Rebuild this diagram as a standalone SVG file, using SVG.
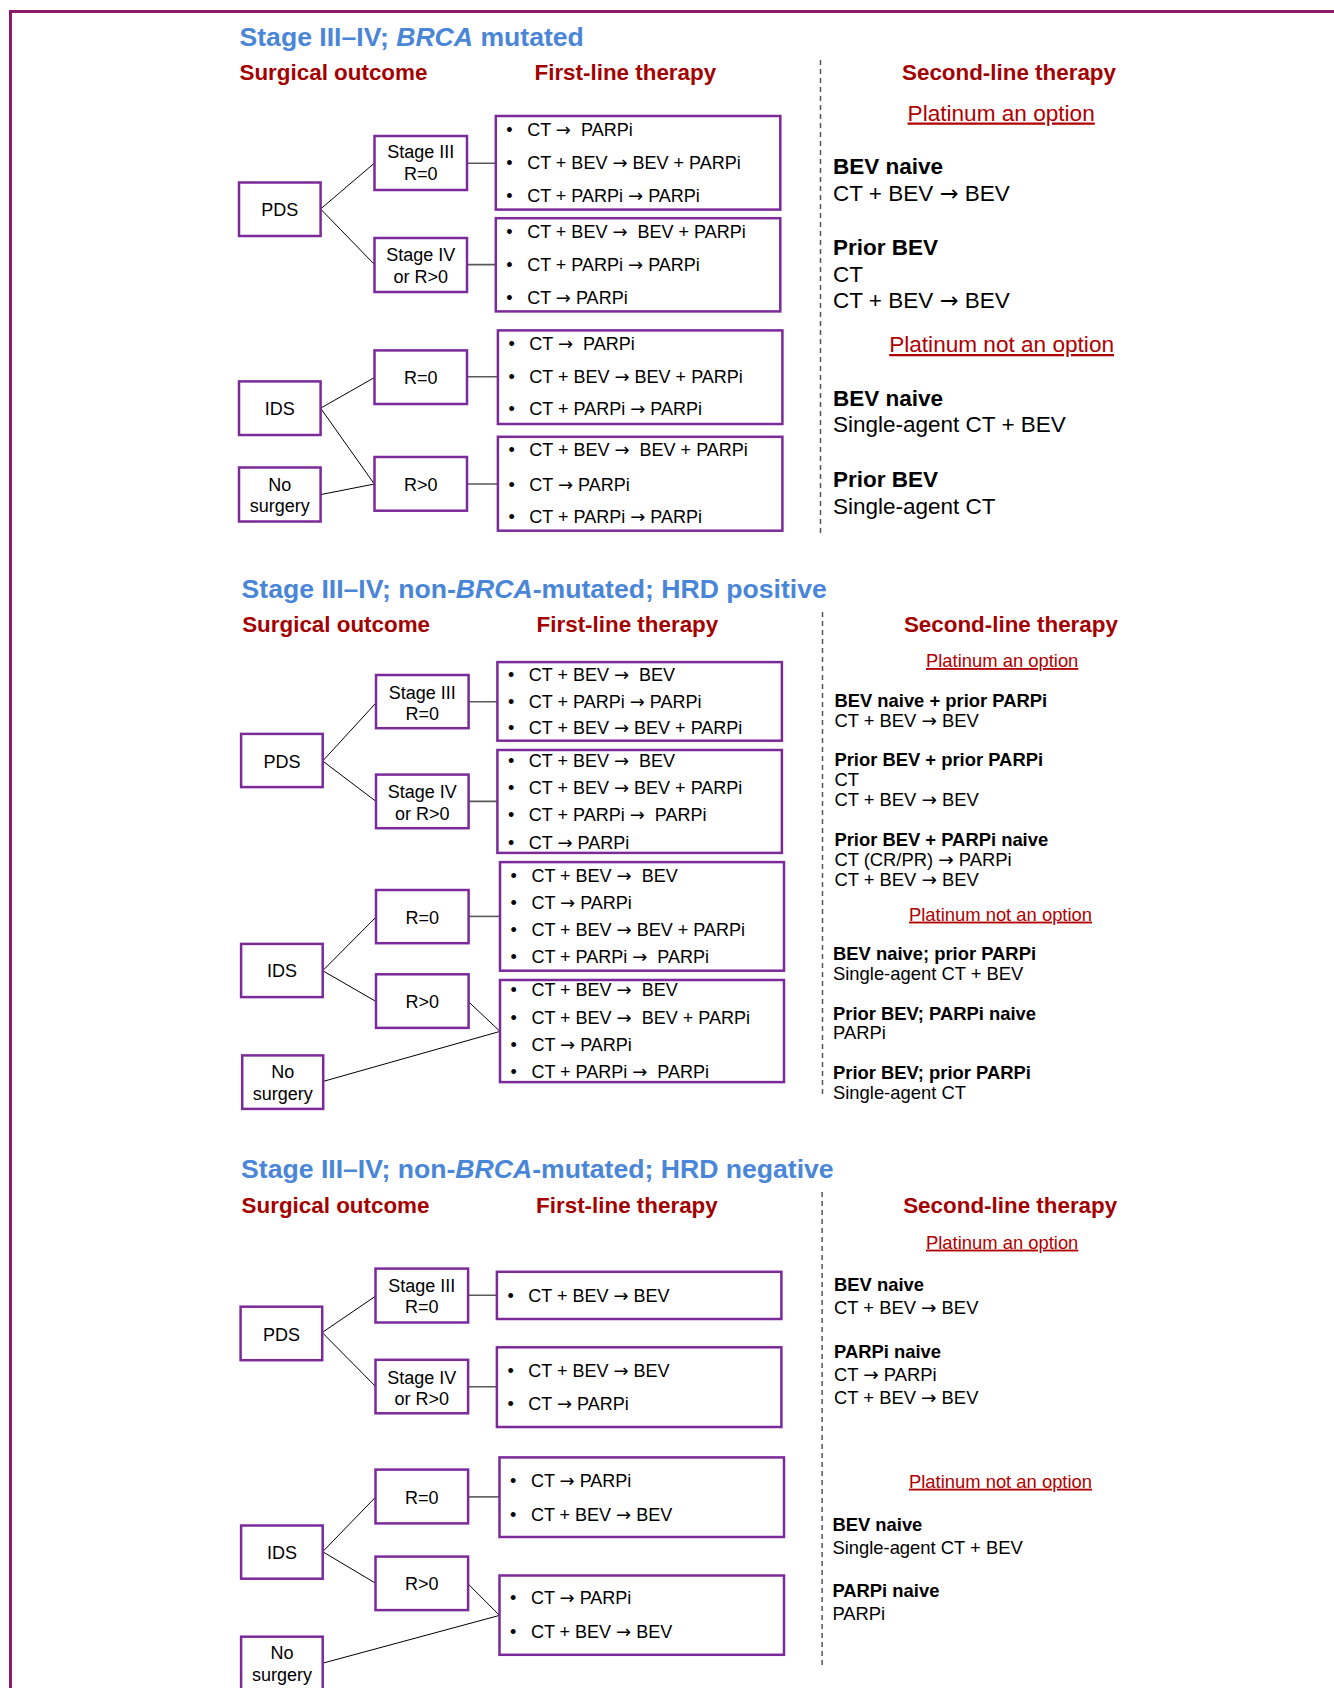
<svg xmlns="http://www.w3.org/2000/svg" width="1334" height="1688" viewBox="0 0 1334 1688">
<style>
text{font-family:"Liberation Sans",Arial,sans-serif;white-space:pre}
.ar{font-family:"DejaVu Sans","Liberation Sans",sans-serif;font-weight:normal}
.title{font-size:26.6px;font-weight:bold;fill:#4a86d8}
.sub{font-size:22.4px;font-weight:bold;fill:#a50000}
.plat1{font-size:22.6px;fill:#b00000;text-decoration:underline}
.plat2{font-size:18.4px;fill:#b00000;text-decoration:underline}
.b22{font-size:22.5px;font-weight:bold;fill:#000}
.r22{font-size:22.5px;fill:#000}
.b18{font-size:18.4px;font-weight:bold;fill:#000}
.r18{font-size:18.4px;fill:#000}
.node rect,.tbox rect{fill:#fff;stroke:#7b2a9a;stroke-width:2.5}
.lbl{font-size:18px;fill:#000;text-anchor:middle}
.tx{font-size:18px;fill:#000}
.diag{stroke:#000;stroke-width:1;fill:none}
.hor{stroke:#595959;stroke-width:1.6;fill:none}
.dash{stroke:#555;stroke-width:1.5;stroke-dasharray:5 4;fill:none}
</style>
<path d="M10.5 1688 V11.5 H1334" fill="none" stroke="#8b1a6b" stroke-width="3"/>

<!-- ============ SECTION 1 ============ -->
<text class="title" x="239.5" y="46">Stage III–IV; <tspan font-style="italic">BRCA</tspan> mutated</text>
<text class="sub" x="239.5" y="80">Surgical outcome</text>
<text class="sub" x="534.5" y="80">First-line therapy</text>
<text class="sub" x="902" y="80">Second-line therapy</text>
<path class="dash" d="M820.5 60 V536"/>

<g id="connectors">
<path class="diag" d="M320.6 209 L374.5 163 M320.6 209 L374.5 264.5"/>
<path class="hor" d="M467 163.2 H495.8 M467 264.6 H495.8"/>
<path class="diag" d="M320.6 408.2 L374.5 377.5 M320.6 408.2 L374.5 484.3 M320.6 494.6 L374.5 484"/>
<path class="hor" d="M467 376.8 H497.9 M467 484 H497.9"/>
<path class="diag" d="M322.7 761 L376 702.9 M322.7 761 L376 801.4"/>
<path class="hor" d="M468.6 701.8 H497.4 M468.6 801.4 H497.4"/>
<path class="diag" d="M322.7 970.7 L376 917.1 M322.7 970.7 L376 1001.5 M468.6 1001.8 L500 1031.4 M323.2 1081.4 L500 1031.4"/>
<path class="hor" d="M468.6 916.4 H500"/>
<path class="diag" d="M322.2 1332.5 L375.5 1296.2 M322.2 1332.5 L375.5 1386.4"/>
<path class="hor" d="M468.1 1295.2 H496.9 M468.1 1386.8 H496.9"/>
<path class="diag" d="M322.7 1551.7 L375.5 1497.2 M322.7 1551.7 L375.5 1583.2 M468.1 1583.9 L499.5 1615.4 M322.7 1663.2 L499.5 1615.4"/>
<path class="hor" d="M468.1 1496.9 H499.5"/>
</g>

<g id="s1-pds" class="node"><rect x="239" y="182.5" width="81.6" height="53.5"/><text class="lbl" x="279.8" y="216">PDS</text></g>
<g id="s1-stage3" class="node"><rect x="374.5" y="136" width="92.5" height="54"/><text class="lbl" x="420.7" y="158.3">Stage III</text><text class="lbl" x="420.7" y="180">R=0</text></g>
<g id="s1-stage4" class="node"><rect x="374.5" y="238" width="92.5" height="54"/><text class="lbl" x="420.7" y="261">Stage IV</text><text class="lbl" x="420.7" y="282.5">or R&gt;0</text></g>
<g id="s1-ids" class="node"><rect x="239" y="381.4" width="81.6" height="53.6"/><text class="lbl" x="279.8" y="414.7">IDS</text></g>
<g id="s1-r0" class="node"><rect x="374.5" y="350.4" width="92.5" height="53.6"/><text class="lbl" x="420.7" y="384">R=0</text></g>
<g id="s1-nosurg" class="node"><rect x="239" y="467.5" width="81.6" height="54"/><text class="lbl" x="279.8" y="490.5">No</text><text class="lbl" x="279.8" y="512">surgery</text></g>
<g id="s1-rgt0" class="node"><rect x="374.5" y="457" width="92.5" height="53.7"/><text class="lbl" x="420.7" y="491">R&gt;0</text></g>

<g id="s1-boxA" class="tbox"><rect x="495.8" y="116" width="284.5" height="93.6"/>
<text class="tx" x="506.3" y="135.8">•</text><text class="tx" x="527.2" y="135.8">CT <tspan class="ar">→</tspan>  PARPi</text>
<text class="tx" x="506.3" y="169">•</text><text class="tx" x="527.2" y="169">CT + BEV <tspan class="ar">→</tspan> BEV + PARPi</text>
<text class="tx" x="506.3" y="201.5">•</text><text class="tx" x="527.2" y="201.5">CT + PARPi <tspan class="ar">→</tspan> PARPi</text></g>
<g id="s1-boxB" class="tbox"><rect x="495.8" y="218.2" width="284.5" height="93.2"/>
<text class="tx" x="506.3" y="237.5">•</text><text class="tx" x="527.2" y="237.5">CT + BEV <tspan class="ar">→</tspan>  BEV + PARPi</text>
<text class="tx" x="506.3" y="271">•</text><text class="tx" x="527.2" y="271">CT + PARPi <tspan class="ar">→</tspan> PARPi</text>
<text class="tx" x="506.3" y="303.5">•</text><text class="tx" x="527.2" y="303.5">CT <tspan class="ar">→</tspan> PARPi</text></g>
<g id="s1-boxC" class="tbox"><rect x="497.9" y="330.4" width="284.5" height="93.6"/>
<text class="tx" x="508.4" y="350">•</text><text class="tx" x="529.3" y="350">CT <tspan class="ar">→</tspan>  PARPi</text>
<text class="tx" x="508.4" y="383.3">•</text><text class="tx" x="529.3" y="383.3">CT + BEV <tspan class="ar">→</tspan> BEV + PARPi</text>
<text class="tx" x="508.4" y="415.4">•</text><text class="tx" x="529.3" y="415.4">CT + PARPi <tspan class="ar">→</tspan> PARPi</text></g>
<g id="s1-boxD" class="tbox"><rect x="497.9" y="436.8" width="284.5" height="93.9"/>
<text class="tx" x="508.4" y="455.8">•</text><text class="tx" x="529.3" y="455.8">CT + BEV <tspan class="ar">→</tspan>  BEV + PARPi</text>
<text class="tx" x="508.4" y="490.5">•</text><text class="tx" x="529.3" y="490.5">CT <tspan class="ar">→</tspan> PARPi</text>
<text class="tx" x="508.4" y="522.5">•</text><text class="tx" x="529.3" y="522.5">CT + PARPi <tspan class="ar">→</tspan> PARPi</text></g>

<g id="s1-second">
<text class="plat1" x="907.6" y="120.5">Platinum an option</text>
<text class="b22" x="833" y="174">BEV naive</text>
<text class="r22" x="833" y="201">CT + BEV <tspan class="ar">→</tspan> BEV</text>
<text class="b22" x="833" y="254.5">Prior BEV</text>
<text class="r22" x="833" y="281.5">CT</text>
<text class="r22" x="833" y="308">CT + BEV <tspan class="ar">→</tspan> BEV</text>
<text class="plat1" x="889.2" y="352">Platinum not an option</text>
<text class="b22" x="833" y="405.5">BEV naive</text>
<text class="r22" x="833" y="432">Single-agent CT + BEV</text>
<text class="b22" x="833" y="486.5">Prior BEV</text>
<text class="r22" x="833" y="514">Single-agent CT</text>
</g>

<!-- ============ SECTION 2 ============ -->
<text class="title" x="241.6" y="597.5">Stage III–IV; non-<tspan font-style="italic">BRCA</tspan>-mutated; HRD positive</text>
<text class="sub" x="242.2" y="632">Surgical outcome</text>
<text class="sub" x="536.6" y="632">First-line therapy</text>
<text class="sub" x="903.9" y="632">Second-line therapy</text>
<path class="dash" d="M822.5 612 V1097"/>

<g id="s2-stage3" class="node"><rect x="376" y="675" width="92.6" height="53.2"/><text class="lbl" x="422.3" y="698.6">Stage III</text><text class="lbl" x="422.3" y="720">R=0</text></g>
<g id="s2-pds" class="node"><rect x="241.1" y="733.9" width="81.6" height="53.2"/><text class="lbl" x="281.9" y="767.5">PDS</text></g>
<g id="s2-stage4" class="node"><rect x="376" y="774.6" width="92.6" height="53.6"/><text class="lbl" x="422.3" y="798">Stage IV</text><text class="lbl" x="422.3" y="819.7">or R&gt;0</text></g>
<g id="s2-r0" class="node"><rect x="376" y="890" width="92.6" height="53.2"/><text class="lbl" x="422.3" y="923.6">R=0</text></g>
<g id="s2-ids" class="node"><rect x="241.1" y="943.9" width="81.6" height="53.2"/><text class="lbl" x="281.9" y="977.2">IDS</text></g>
<g id="s2-rgt0" class="node"><rect x="376" y="974.3" width="92.6" height="53.6"/><text class="lbl" x="422.3" y="1008.3">R&gt;0</text></g>
<g id="s2-nosurg" class="node"><rect x="242.2" y="1055.4" width="81" height="53.5"/><text class="lbl" x="282.7" y="1078.3">No</text><text class="lbl" x="282.7" y="1100">surgery</text></g>

<g id="s2-boxE" class="tbox"><rect x="497.4" y="662.1" width="284.5" height="78.6"/>
<text class="tx" x="507.9" y="680.8">•</text><text class="tx" x="528.8" y="680.8">CT + BEV <tspan class="ar">→</tspan>  BEV</text>
<text class="tx" x="507.9" y="708.3">•</text><text class="tx" x="528.8" y="708.3">CT + PARPi <tspan class="ar">→</tspan> PARPi</text>
<text class="tx" x="507.9" y="734.4">•</text><text class="tx" x="528.8" y="734.4">CT + BEV <tspan class="ar">→</tspan> BEV + PARPi</text></g>
<g id="s2-boxF" class="tbox"><rect x="497.4" y="750" width="284.5" height="102.9"/>
<text class="tx" x="507.9" y="766.5">•</text><text class="tx" x="528.8" y="766.5">CT + BEV <tspan class="ar">→</tspan>  BEV</text>
<text class="tx" x="507.9" y="794.4">•</text><text class="tx" x="528.8" y="794.4">CT + BEV <tspan class="ar">→</tspan> BEV + PARPi</text>
<text class="tx" x="507.9" y="821.1">•</text><text class="tx" x="528.8" y="821.1">CT + PARPi <tspan class="ar">→</tspan>  PARPi</text>
<text class="tx" x="507.9" y="848.6">•</text><text class="tx" x="528.8" y="848.6">CT <tspan class="ar">→</tspan> PARPi</text></g>
<g id="s2-boxG" class="tbox"><rect x="500" y="862.1" width="284" height="108.6"/>
<text class="tx" x="510.5" y="881.5">•</text><text class="tx" x="531.4" y="881.5">CT + BEV <tspan class="ar">→</tspan>  BEV</text>
<text class="tx" x="510.5" y="909.4">•</text><text class="tx" x="531.4" y="909.4">CT <tspan class="ar">→</tspan> PARPi</text>
<text class="tx" x="510.5" y="936.1">•</text><text class="tx" x="531.4" y="936.1">CT + BEV <tspan class="ar">→</tspan> BEV + PARPi</text>
<text class="tx" x="510.5" y="963.3">•</text><text class="tx" x="531.4" y="963.3">CT + PARPi <tspan class="ar">→</tspan>  PARPi</text></g>
<g id="s2-boxH" class="tbox"><rect x="500" y="980" width="284" height="102.1"/>
<text class="tx" x="510.5" y="996">•</text><text class="tx" x="531.4" y="996">CT + BEV <tspan class="ar">→</tspan>  BEV</text>
<text class="tx" x="510.5" y="1024">•</text><text class="tx" x="531.4" y="1024">CT + BEV <tspan class="ar">→</tspan>  BEV + PARPi</text>
<text class="tx" x="510.5" y="1051">•</text><text class="tx" x="531.4" y="1051">CT <tspan class="ar">→</tspan> PARPi</text>
<text class="tx" x="510.5" y="1078">•</text><text class="tx" x="531.4" y="1078">CT + PARPi <tspan class="ar">→</tspan>  PARPi</text></g>

<g id="s2-second">
<text class="plat2" x="926" y="667">Platinum an option</text>
<text class="b18" x="834.4" y="707.2">BEV naive + prior PARPi</text>
<text class="r18" x="834.4" y="726.6">CT + BEV <tspan class="ar">→</tspan> BEV</text>
<text class="b18" x="834.4" y="766">Prior BEV + prior PARPi</text>
<text class="r18" x="834.4" y="786">CT</text>
<text class="r18" x="834.4" y="806">CT + BEV <tspan class="ar">→</tspan> BEV</text>
<text class="b18" x="834.4" y="846">Prior BEV + PARPi naive</text>
<text class="r18" x="834.4" y="866.3">CT (CR/PR) <tspan class="ar">→</tspan> PARPi</text>
<text class="r18" x="834.4" y="885.8">CT + BEV <tspan class="ar">→</tspan> BEV</text>
<text class="plat2" x="909" y="920.6">Platinum not an option</text>
<text class="b18" x="833" y="960.4">BEV naive; prior PARPi</text>
<text class="r18" x="833" y="980.2">Single-agent CT + BEV</text>
<text class="b18" x="833" y="1019.5">Prior BEV; PARPi naive</text>
<text class="r18" x="833" y="1039.4">PARPi</text>
<text class="b18" x="833" y="1079.2">Prior BEV; prior PARPi</text>
<text class="r18" x="833" y="1099">Single-agent CT</text>
</g>

<!-- ============ SECTION 3 ============ -->
<text class="title" x="241.1" y="1178.4">Stage III–IV; non-<tspan font-style="italic">BRCA</tspan>-mutated; HRD negative</text>
<text class="sub" x="241.6" y="1213">Surgical outcome</text>
<text class="sub" x="536.1" y="1213">First-line therapy</text>
<text class="sub" x="903.2" y="1213">Second-line therapy</text>
<path class="dash" d="M822.1 1192 V1667"/>

<g id="s3-stage3" class="node"><rect x="375.5" y="1268.6" width="92.6" height="53.9"/><text class="lbl" x="421.8" y="1291.5">Stage III</text><text class="lbl" x="421.8" y="1313.2">R=0</text></g>
<g id="s3-pds" class="node"><rect x="240.6" y="1306.7" width="81.6" height="53.5"/><text class="lbl" x="281.4" y="1340.5">PDS</text></g>
<g id="s3-stage4" class="node"><rect x="375.5" y="1359.8" width="92.6" height="53.5"/><text class="lbl" x="421.8" y="1383.5">Stage IV</text><text class="lbl" x="421.8" y="1405">or R&gt;0</text></g>
<g id="s3-r0" class="node"><rect x="375.5" y="1469.6" width="92.6" height="53.8"/><text class="lbl" x="421.8" y="1503.7">R=0</text></g>
<g id="s3-ids" class="node"><rect x="241.1" y="1525.5" width="81.6" height="53.2"/><text class="lbl" x="281.9" y="1558.9">IDS</text></g>
<g id="s3-rgt0" class="node"><rect x="375.5" y="1556.6" width="92.6" height="53.5"/><text class="lbl" x="421.8" y="1590.4">R&gt;0</text></g>
<g id="s3-nosurg" class="node"><rect x="241.1" y="1636.7" width="81.6" height="54"/><text class="lbl" x="281.9" y="1659">No</text><text class="lbl" x="281.9" y="1680.7">surgery</text></g>

<g id="s3-boxI" class="tbox"><rect x="496.9" y="1271.8" width="284.5" height="47.2"/>
<text class="tx" x="507.4" y="1301.7">•</text><text class="tx" x="528.3" y="1301.7">CT + BEV <tspan class="ar">→</tspan> BEV</text></g>
<g id="s3-boxJ" class="tbox"><rect x="496.9" y="1347.3" width="284.5" height="79.7"/>
<text class="tx" x="507.4" y="1376.5">•</text><text class="tx" x="528.3" y="1376.5">CT + BEV <tspan class="ar">→</tspan> BEV</text>
<text class="tx" x="507.4" y="1410.4">•</text><text class="tx" x="528.3" y="1410.4">CT <tspan class="ar">→</tspan> PARPi</text></g>
<g id="s3-boxK" class="tbox"><rect x="499.5" y="1457.4" width="284.5" height="79.6"/>
<text class="tx" x="510" y="1486.5">•</text><text class="tx" x="530.9" y="1486.5">CT <tspan class="ar">→</tspan> PARPi</text>
<text class="tx" x="510" y="1520.5">•</text><text class="tx" x="530.9" y="1520.5">CT + BEV <tspan class="ar">→</tspan> BEV</text></g>
<g id="s3-boxL" class="tbox"><rect x="499.5" y="1575.5" width="284.5" height="79.3"/>
<text class="tx" x="510" y="1604.4">•</text><text class="tx" x="530.9" y="1604.4">CT <tspan class="ar">→</tspan> PARPi</text>
<text class="tx" x="510" y="1638.3">•</text><text class="tx" x="530.9" y="1638.3">CT + BEV <tspan class="ar">→</tspan> BEV</text></g>

<g id="s3-second">
<text class="plat2" x="926" y="1248.6">Platinum an option</text>
<text class="b18" x="834" y="1290.7">BEV naive</text>
<text class="r18" x="834" y="1314">CT + BEV <tspan class="ar">→</tspan> BEV</text>
<text class="b18" x="834" y="1358">PARPi naive</text>
<text class="r18" x="834" y="1381">CT <tspan class="ar">→</tspan> PARPi</text>
<text class="r18" x="834" y="1404">CT + BEV <tspan class="ar">→</tspan> BEV</text>
<text class="plat2" x="909" y="1487.7">Platinum not an option</text>
<text class="b18" x="832.4" y="1531">BEV naive</text>
<text class="r18" x="832.4" y="1553.6">Single-agent CT + BEV</text>
<text class="b18" x="832.4" y="1596.8">PARPi naive</text>
<text class="r18" x="832.4" y="1620">PARPi</text>
</g>
</svg>
